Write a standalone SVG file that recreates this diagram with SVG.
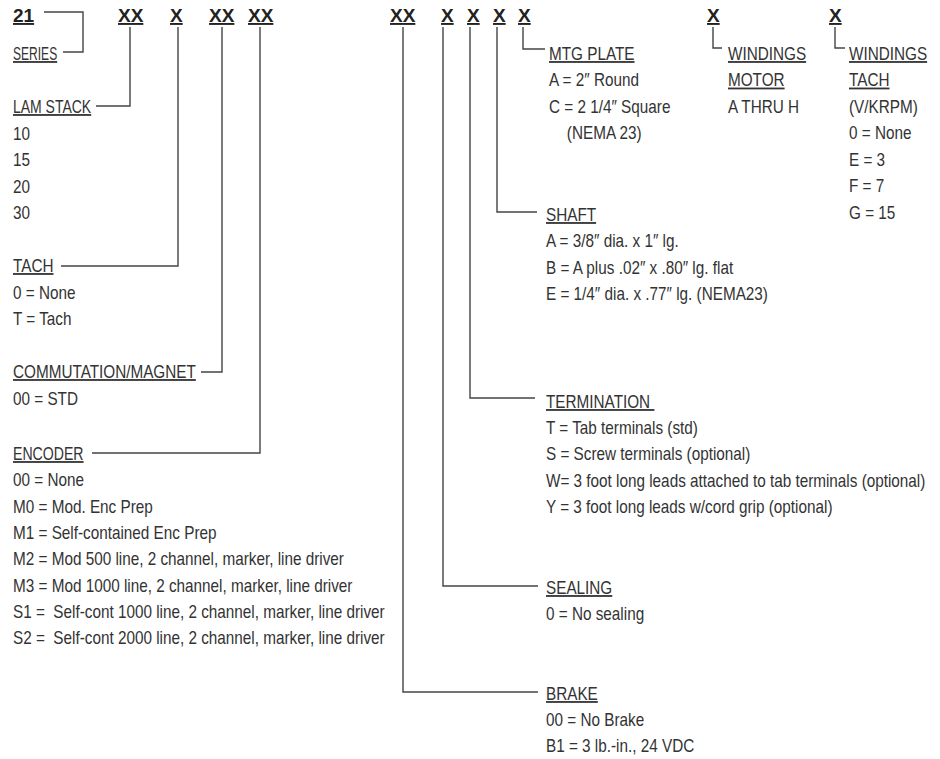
<svg xmlns="http://www.w3.org/2000/svg" width="940" height="759" viewBox="0 0 940 759">
<style>
text{font-family:'Liberation Sans',Arial,sans-serif;font-size:18px;fill:#333;white-space:pre}
.h{font-weight:bold;font-size:19px;fill:#222;text-decoration:underline}
.u{text-decoration:underline}
.c path{fill:none;stroke:#444;stroke-width:1.4}
</style>
<rect width="940" height="759" fill="#fff"/>
<g id="code">
<text class="h" x="13" y="22">21</text>
<text class="h" x="118" y="22">XX</text>
<text class="h" x="170" y="22">X</text>
<text class="h" x="209" y="22">XX</text>
<text class="h" x="248" y="22">XX</text>
<text class="h" x="390" y="22">XX</text>
<text class="h" x="441" y="22">X</text>
<text class="h" x="467" y="22">X</text>
<text class="h" x="493" y="22">X</text>
<text class="h" x="518" y="22">X</text>
<text class="h" x="707" y="22">X</text>
<text class="h" x="829" y="22">X</text>
</g>
<g class="c" id="connectors">
<path d="M44,12 H83 V52 H63"/>
<path d="M130,27 V106 H96"/>
<path d="M178,27 V266 H61"/>
<path d="M222,27 V372 H201"/>
<path d="M260,27 V453 H92"/>
<path d="M403,27 V692 H538"/>
<path d="M443,27 V586 H538"/>
<path d="M470,27 V398 H535"/>
<path d="M497,27 V212 H537"/>
<path d="M523,27 V49 H545"/>
<path d="M713,27 V48 H722"/>
<path d="M835,27 V48 H845"/>
</g>
<g transform="translate(13,0) scale(0.85,1)">
<g id="series"><text class="u" x="0" y="60" textLength="52" lengthAdjust="spacingAndGlyphs">SERIES</text></g>
<g id="lamstack">
<text class="u" x="0" y="113" textLength="92" lengthAdjust="spacingAndGlyphs">LAM STACK</text>
<text x="0" y="140">10</text>
<text x="0" y="166">15</text>
<text x="0" y="193">20</text>
<text x="0" y="219">30</text>
</g>
<g id="tach">
<text class="u" x="0" y="272">TACH</text>
<text x="0" y="299">0 = None</text>
<text x="0" y="325">T = Tach</text>
</g>
<g id="commutation">
<text class="u" x="0" y="378">COMMUTATION/MAGNET</text>
<text x="0" y="405">00 = STD</text>
</g>
<g id="encoder">
<text class="u" x="0" y="460" textLength="83" lengthAdjust="spacingAndGlyphs">ENCODER</text>
<text x="0" y="486">00 = None</text>
<text x="0" y="513">M0 = Mod. Enc Prep</text>
<text x="0" y="539">M1 = Self-contained Enc Prep</text>
<text x="0" y="565">M2 = Mod 500 line, 2 channel, marker, line driver</text>
<text x="0" y="592">M3 = Mod 1000 line, 2 channel, marker, line driver</text>
<text x="0" y="618">S1 =  Self-cont 1000 line, 2 channel, marker, line driver</text>
<text x="0" y="644">S2 =  Self-cont 2000 line, 2 channel, marker, line driver</text>
</g>
</g>
<g id="mtgplate" transform="translate(549,0) scale(0.85,1)">
<text class="u" x="0" y="60">MTG PLATE</text>
<text x="0" y="86.5">A = 2″ Round</text>
<text x="0" y="113">C = 2 1/4″ Square</text>
<text x="21" y="139.5">(NEMA 23)</text>
</g>
<g id="windings-motor" transform="translate(728,0) scale(0.85,1)">
<text class="u" x="0" y="60">WINDINGS</text>
<text class="u" x="0" y="86.5">MOTOR</text>
<text x="0" y="113">A THRU H</text>
</g>
<g id="windings-tach" transform="translate(849,0) scale(0.85,1)">
<text class="u" x="0" y="60">WINDINGS</text>
<text class="u" x="0" y="86.5">TACH</text>
<text x="0" y="113">(V/KRPM)</text>
<text x="0" y="139.5">0 = None</text>
<text x="0" y="166">E = 3</text>
<text x="0" y="192.5">F = 7</text>
<text x="0" y="219">G = 15</text>
</g>
<g transform="translate(546,0) scale(0.85,1)">
<g id="shaft">
<text class="u" x="0" y="221">SHAFT</text>
<text x="0" y="247.5">A = 3/8″ dia. x 1″ lg.</text>
<text x="0" y="274">B = A plus .02″ x .80″ lg. flat</text>
<text x="0" y="300">E = 1/4″ dia. x .77″ lg. (NEMA23)</text>
</g>
<g id="termination">
<text class="u" x="0" y="408">TERMINATION </text>
<text x="0" y="434">T = Tab terminals (std)</text>
<text x="0" y="460.5">S = Screw terminals (optional)</text>
<text x="0" y="487">W= 3 foot long leads attached to tab terminals (optional)</text>
<text x="0" y="513">Y = 3 foot long leads w/cord grip (optional)</text>
</g>
<g id="sealing">
<text class="u" x="0" y="594">SEALING</text>
<text x="0" y="620">0 = No sealing</text>
</g>
<g id="brake">
<text class="u" x="0" y="700">BRAKE</text>
<text x="0" y="726">00 = No Brake</text>
<text x="0" y="752">B1 = 3 lb.-in., 24 VDC</text>
</g>
</g>
</svg>
